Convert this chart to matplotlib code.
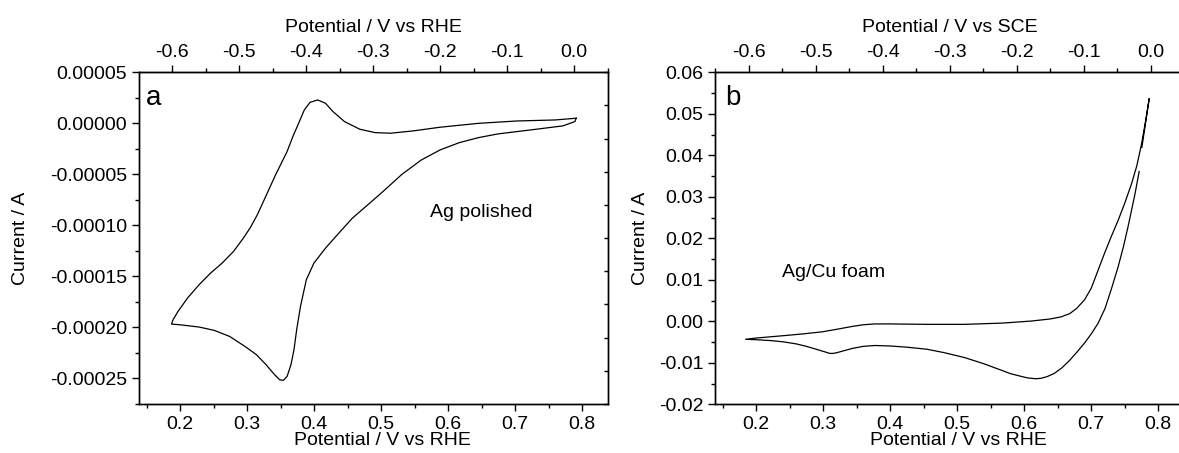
import matplotlib.pyplot as plt
from matplotlib.ticker import MultipleLocator, FuncFormatter

plt.rcParams['font.family'] = ['Liberation Sans', 'DejaVu Sans']
plt.rcParams['font.size'] = 14

# panel a: Ag polished CV (potential V vs RHE, current A)
ag_pot = [0.791, 0.7596, 0.7024, 0.6454, 0.5882, 0.5482, 0.514, 0.491, 0.4682, 0.4454,
          0.4282, 0.4169, 0.4054, 0.394, 0.3854, 0.3769, 0.3683, 0.3597, 0.3425, 0.3255,
          0.315, 0.305, 0.295, 0.2797, 0.2627, 0.2455, 0.2284, 0.2112, 0.197, 0.1896,
          0.1872, 0.200, 0.2284, 0.2512, 0.274, 0.2969, 0.314, 0.3284, 0.3397, 0.3484,
          0.354, 0.3597, 0.3655, 0.370, 0.374, 0.3797, 0.3884, 0.3997, 0.417, 0.4369,
          0.457, 0.4798, 0.5025, 0.531, 0.5597, 0.5882, 0.6167, 0.6454, 0.674, 0.7312,
          0.7711, 0.789, 0.791]
ag_cur = [5.0e-6, 3.3e-6, 2.3e-6, 0.0, -3.8e-6, -7.4e-6, -9.7e-6, -9.1e-6, -5.8e-6, 1.7e-6,
          1.15e-5, 1.97e-5, 2.29e-5, 2.06e-5, 1.31e-5, 0.0, -1.30e-5, -2.77e-5, -5.05e-5, -7.50e-5,
          -9.0e-5, -1.02e-4, -1.12e-4, -1.256e-4, -1.370e-4, -1.468e-4, -1.582e-4, -1.712e-4, -1.843e-4, -1.925e-4,
          -1.967e-4, -1.974e-4, -1.996e-4, -2.029e-4, -2.088e-4, -2.186e-4, -2.267e-4, -2.365e-4, -2.453e-4, -2.512e-4,
          -2.519e-4, -2.48e-4, -2.365e-4, -2.218e-4, -2.023e-4, -1.794e-4, -1.533e-4, -1.370e-4, -1.223e-4, -1.076e-4,
          -9.3e-5, -8.0e-5, -6.7e-5, -5.0e-5, -3.6e-5, -2.6e-5, -1.89e-5, -1.4e-5, -1.04e-5, -5.8e-6,
          -2.5e-6, 1.7e-6, 5.0e-6]

# panel b: Ag/Cu foam CV
foam_pot = [0.7715, 0.765, 0.755, 0.748, 0.740, 0.730, 0.7205, 0.710, 0.700, 0.690,
            0.678, 0.667, 0.656, 0.645, 0.634, 0.625, 0.617, 0.605, 0.5947, 0.580,
            0.5667, 0.540, 0.511, 0.480, 0.455, 0.425, 0.399, 0.377, 0.360, 0.3435,
            0.330, 0.321, 0.315, 0.310, 0.300, 0.2877, 0.275, 0.2597, 0.240, 0.2207,
            0.200, 0.1844, 0.200, 0.243, 0.270, 0.2988, 0.320, 0.3435, 0.360, 0.377,
            0.399, 0.455, 0.511, 0.567, 0.611, 0.639, 0.655, 0.668, 0.678, 0.690,
            0.700, 0.7106, 0.720, 0.730, 0.740, 0.750, 0.760, 0.768, 0.775, 0.781,
            0.7865, 0.7755]
foam_cur = [0.0361, 0.0305, 0.0229, 0.0180, 0.0131, 0.0078, 0.0031, -0.0005, -0.0030, -0.0052,
            -0.0075, -0.0095, -0.0112, -0.0125, -0.0133, -0.0137, -0.0138, -0.0136, -0.0132, -0.0126,
            -0.0118, -0.0102, -0.0087, -0.0075, -0.0067, -0.0062, -0.0059, -0.0058, -0.0060, -0.0065,
            -0.0071, -0.0075, -0.0077, -0.0077, -0.0072, -0.0066, -0.0060, -0.0054, -0.0049, -0.0046,
            -0.0044, -0.0043, -0.0040, -0.0034, -0.0030, -0.0025, -0.0019, -0.0012, -0.0008, -0.0006,
            -0.0006, -0.0007, -0.0007, -0.0004, 0.0001, 0.0006, 0.0011, 0.0019, 0.0031, 0.0052,
            0.0080, 0.0125, 0.0165, 0.0205, 0.0243, 0.0285, 0.0331, 0.0375, 0.0427, 0.0482,
            0.0537, 0.0419]

top_ticks = [-0.6, -0.5, -0.4, -0.3, -0.2, -0.1, 0.0]
offset_a = 0.788  # top axis = bottom - offset
offset_b = 0.789

fig = plt.figure(figsize=(11.79, 4.53), dpi=100)
ax1 = fig.add_axes([0.1179, 0.1082, 0.3981, 0.7322])
ax2 = fig.add_axes([0.6065, 0.1071, 0.3981, 0.7333])


def style(ax, off, ymaj, yfmt, top_label):
    ax.set_xlim(0.1388, 0.839)
    ax.xaxis.set_major_locator(MultipleLocator(0.1))
    ax.xaxis.set_minor_locator(MultipleLocator(0.05))
    ax.yaxis.set_major_locator(MultipleLocator(ymaj))
    ax.yaxis.set_minor_locator(MultipleLocator(ymaj / 2))
    ax.xaxis.set_major_formatter(FuncFormatter(lambda v, p: f'{round(v, 2) + 0:.1f}'))
    ax.yaxis.set_major_formatter(FuncFormatter(lambda v, p: yfmt.format(round(v, 6) + 0)))
    ax.tick_params(which='both', direction='out', width=1.0, right=False, top=False)
    ax.tick_params(which='major', length=5, pad=3.5)
    ax.tick_params(which='minor', length=3)
    for s in ax.spines.values():
        s.set_linewidth(1.0)
    ax.set_xlabel('Potential / V vs RHE')
    ax.xaxis.label.set_va('center')
    ax.set_ylabel('Current / A')

    sec = ax.secondary_xaxis('top', functions=(lambda x: x - off, lambda x: x + off))
    sec.set_xticks(top_ticks)
    sec.set_xticklabels([f'{t:.1f}' for t in top_ticks])
    sec.xaxis.set_minor_locator(MultipleLocator(0.05))
    sec.tick_params(which='both', direction='out', width=1.0)
    sec.tick_params(which='major', length=5, pad=3)
    sec.tick_params(which='minor', length=3)
    sec.set_xlabel(top_label, labelpad=9)

    tw = ax.twinx()
    tw.set_ylim(0, 10)
    tw.set_yticks(range(11))
    tw.set_yticklabels([])
    tw.tick_params(direction='in', length=3, width=1.0)
    for s in tw.spines.values():
        s.set_linewidth(1.0)
    return sec


style(ax1, offset_a, 0.00005, '{:.5f}', 'Potential / V vs RHE')
ax1.set_ylim(-0.000275, 0.00005)
ax1.plot(ag_pot, ag_cur, color='black', linewidth=0.9)
ax1.text(0.015, 0.901, 'a', transform=ax1.transAxes, fontsize=20, va='baseline')
ax1.text(0.621, 0.5647, 'Ag polished', transform=ax1.transAxes, va='baseline')
ax1.xaxis.set_label_coords(0.518, -0.109)
ax1.yaxis.set_label_coords(-0.234, 0.5)

style(ax2, offset_b, 0.01, '{:.2f}', 'Potential / V vs SCE')
ax2.set_ylim(-0.02, 0.06)
ax2.plot(foam_pot, foam_cur, color='black', linewidth=0.9)
ax2.text(0.021, 0.901, 'b', transform=ax2.transAxes, fontsize=20, va='baseline')
ax2.text(0.142, 0.384, 'Ag/Cu foam', transform=ax2.transAxes, va='baseline')
ax2.xaxis.set_label_coords(0.519, -0.109)
ax2.yaxis.set_label_coords(-0.141, 0.5)

fig.savefig('out.png', dpi=100)
